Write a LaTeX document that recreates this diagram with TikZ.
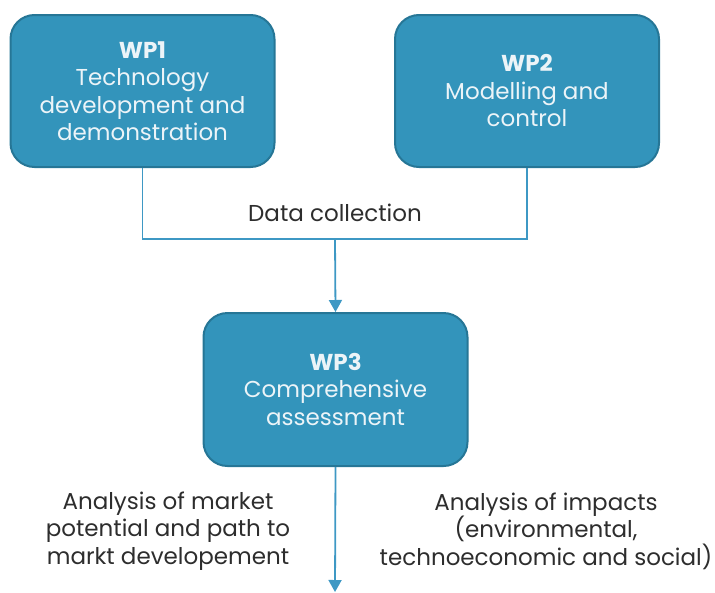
\documentclass[tikz,border=0pt]{standalone}
\usepackage{fontspec}
\setmainfont{Poppins}
\usetikzlibrary{arrows.meta}
\definecolor{boxfill}{RGB}{51,148,187}
\definecolor{boxedge}{RGB}{38,118,150}
\definecolor{linecol}{RGB}{62,152,196}
\definecolor{txtgray}{RGB}{45,45,45}
\definecolor{boxtxt}{RGB}{236,244,248}
\tikzset{
  wpbox/.style={draw=boxedge, line width=2pt, fill=boxfill, rounded corners=24pt,
    minimum width=264pt, minimum height=152pt, align=center, text=boxtxt,
    font=\fontsize{23}{27.5}\selectfont},
  lbl/.style={align=center, text=txtgray, font=\fontsize{23}{27.5}\selectfont},
  conn/.style={draw=linecol, line width=1.8pt},
  arr/.style={conn, -{Triangle[width=13pt,length=12pt]}, linecol}
}
\begin{document}
\begin{tikzpicture}[x=1pt,y=-1pt]
\useasboundingbox (0,0) rectangle (715,592);
\node[wpbox] (wp1) at (142.5,91) {\textbf{WP1}\\Technology\\development and\\demonstration};
\node[wpbox] (wp2) at (527,91) {\textbf{WP2}\\Modelling and\\control};
\node[wpbox, minimum height=153pt] (wp3) at (335.5,389.5) {\textbf{WP3}\\Comprehensive\\assessment};
\node[lbl] (dc) at (335,213) {Data collection};
\coordinate (j) at (335,239);
\coordinate (end) at (335,592);
\draw[conn] (wp1.south) -- (142.5,239) -- (527,239) -- (wp2.south);
\draw[arr] (j) -- (wp3.north);
\draw[arr] (wp3.south) -- (end);
\node[lbl] (l) at (168,531) {Analysis of market\\potential and path to\\markt developement};
\node[lbl] (r) at (546,531) {Analysis of impacts\\(environmental,\\technoeconomic and social)};
\end{tikzpicture}
\end{document}
